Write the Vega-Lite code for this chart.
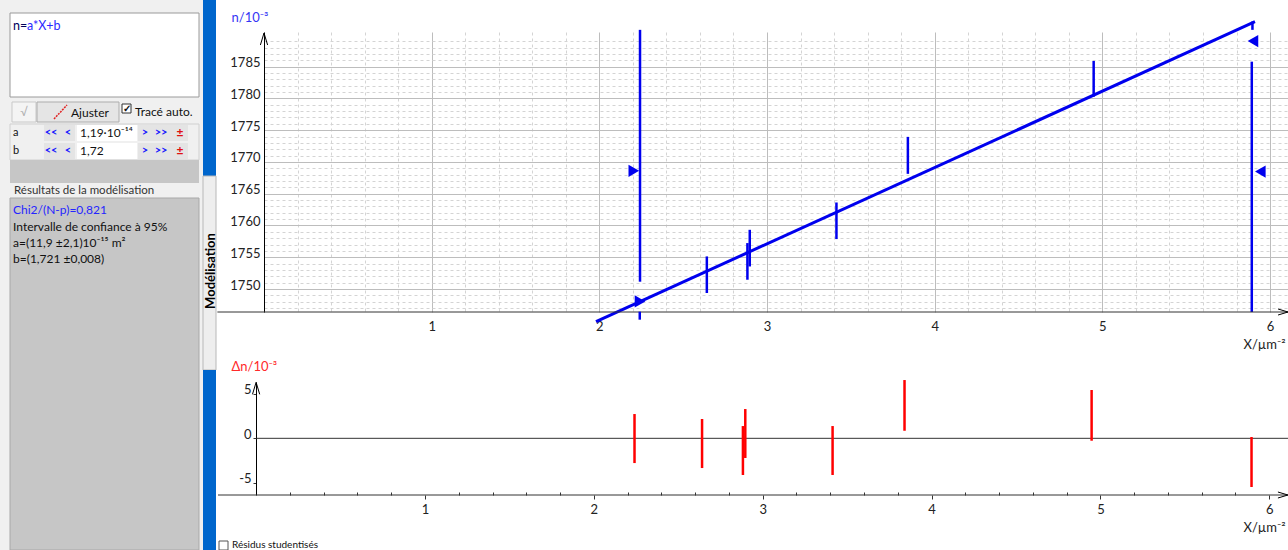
{
  "$schema": "https://vega.github.io/schema/vega-lite/v6.json",
  "padding": 0,
  "spacing": 47,
  "bounds": "flush",
  "config": {
    "view": {"stroke": null},
    "font": "Lato",
    "axis": {"labelFont": "Lato", "titleFont": "Lato", "labelFontSize": 13, "titleFontSize": 13, "titleFontWeight": "normal", "labelColor": "#222", "titleColor": "#222", "labelOverlap": false, "labelFlush": false}
  },
  "datasets": {
    "mesures": [
      {"X": 2.241, "n_lo": 1745.17, "n_hi": 1746.43, "r_lo": -2.78, "r_hi": 2.73},
      {"X": 2.641, "n_lo": 1749.37, "n_hi": 1755.13, "r_lo": -3.34, "r_hi": 2.17},
      {"X": 2.883, "n_lo": 1751.46, "n_hi": 1757.23, "r_lo": -4.12, "r_hi": 1.38},
      {"X": 2.897, "n_lo": 1753.55, "n_hi": 1759.32, "r_lo": -2.21, "r_hi": 3.29},
      {"X": 3.414, "n_lo": 1757.86, "n_hi": 1763.62, "r_lo": -4.12, "r_hi": 1.38},
      {"X": 3.840, "n_lo": 1768.13, "n_hi": 1773.95, "r_lo": 0.85, "r_hi": 6.55},
      {"X": 4.948, "n_lo": 1780.28, "n_hi": 1785.90, "r_lo": -0.27, "r_hi": 5.43},
      {"X": 5.895, "n_lo": 1790.80, "n_hi": 1792.11, "r_lo": -5.47, "r_hi": 0.15}
    ],
    "modele": [{"X": 1.980, "n": 1744.86}, {"X": 5.910, "n": 1792.08}],
    "bornes": [{"X": 2.2425, "lo": 1751.15, "hi": 1790.8}, {"X": 5.891, "lo": 1746.38, "hi": 1785.79}],
    "curseurs": [
      {"X": 2.2056, "n": 1768.60, "sens": "droite"},
      {"X": 2.2425, "n": 1748.05, "sens": "droite"},
      {"X": 5.898, "n": 1789.04, "sens": "gauche"},
      {"X": 5.942, "n": 1768.49, "sens": "gauche"}
    ]
  },
  "hconcat": [
    {
      "width": 217,
      "height": 550,
      "data": {"values": [{}]},
      "layer": [
        {"mark": {"type": "rect", "fill": "#f0f0f0"}, "encoding": {"x": {"datum": 0, "type": "quantitative", "scale": {"domain": [0, 217], "nice": false, "zero": false}, "axis": null}, "x2": {"datum": 203}, "y": {"datum": 0, "type": "quantitative", "scale": {"domain": [0, 550], "reverse": true, "nice": false, "zero": false}, "axis": null}, "y2": {"datum": 550}}},
        {"mark": {"type": "rect", "fill": "#ffffff", "stroke": "#9a9a9a", "strokeWidth": 1}, "encoding": {"x": {"datum": 10, "type": "quantitative", "axis": null}, "x2": {"datum": 199}, "y": {"datum": 13, "type": "quantitative", "axis": null}, "y2": {"datum": 97}}},
        {"mark": {"type": "text", "text": "n=", "align": "left", "baseline": "middle", "fontSize": 12.5, "color": "#00005a"}, "encoding": {"x": {"datum": 13, "type": "quantitative", "axis": null}, "y": {"datum": 26, "type": "quantitative", "axis": null}}},
        {"mark": {"type": "text", "text": "a*X+b", "align": "left", "baseline": "middle", "fontSize": 12.5, "color": "#2b2bff"}, "encoding": {"x": {"datum": 27, "type": "quantitative", "axis": null}, "y": {"datum": 26, "type": "quantitative", "axis": null}}},
        {"mark": {"type": "rect", "fill": "#f4f4f4", "stroke": "#c9c9c9", "strokeWidth": 1}, "encoding": {"x": {"datum": 12, "type": "quantitative", "axis": null}, "x2": {"datum": 36}, "y": {"datum": 102, "type": "quantitative", "axis": null}, "y2": {"datum": 122}}},
        {"mark": {"type": "text", "text": "√", "align": "center", "baseline": "middle", "fontSize": 12, "color": "#b0b0b0"}, "encoding": {"x": {"datum": 24, "type": "quantitative", "axis": null}, "y": {"datum": 112, "type": "quantitative", "axis": null}}},
        {"mark": {"type": "rect", "fill": "#e5e5e5", "stroke": "#adadad", "strokeWidth": 1}, "encoding": {"x": {"datum": 37, "type": "quantitative", "axis": null}, "x2": {"datum": 119}, "y": {"datum": 102, "type": "quantitative", "axis": null}, "y2": {"datum": 122}}},
        {"mark": {"type": "rule", "color": "#e02020", "strokeWidth": 1.5, "strokeDash": [2, 1]}, "encoding": {"x": {"datum": 54, "type": "quantitative", "axis": null}, "x2": {"datum": 67}, "y": {"datum": 119, "type": "quantitative", "axis": null}, "y2": {"datum": 105}}},
        {"mark": {"type": "text", "text": "Ajuster", "align": "left", "baseline": "middle", "fontSize": 12, "color": "#111"}, "encoding": {"x": {"datum": 71, "type": "quantitative", "axis": null}, "y": {"datum": 113, "type": "quantitative", "axis": null}}},
        {"mark": {"type": "rect", "fill": "#ffffff", "stroke": "#333", "strokeWidth": 1}, "encoding": {"x": {"datum": 122, "type": "quantitative", "axis": null}, "x2": {"datum": 131}, "y": {"datum": 104, "type": "quantitative", "axis": null}, "y2": {"datum": 113}}},
        {"mark": {"type": "text", "text": "✓", "align": "center", "baseline": "middle", "fontSize": 10, "fontWeight": "bold", "color": "#111"}, "encoding": {"x": {"datum": 126.5, "type": "quantitative", "axis": null}, "y": {"datum": 108.5, "type": "quantitative", "axis": null}}},
        {"mark": {"type": "text", "text": "Tracé auto.", "align": "left", "baseline": "middle", "fontSize": 12, "color": "#111"}, "encoding": {"x": {"datum": 135, "type": "quantitative", "axis": null}, "y": {"datum": 112, "type": "quantitative", "axis": null}}},
        {"mark": {"type": "rect", "fill": "#f0f0f0", "stroke": "#d0d0d0", "strokeWidth": 1}, "encoding": {"x": {"datum": 10, "type": "quantitative", "axis": null}, "x2": {"datum": 199}, "y": {"datum": 124, "type": "quantitative", "axis": null}, "y2": {"datum": 160}}},
        {"mark": {"type": "rect", "fill": "#e4e4e4"}, "encoding": {"x": {"datum": 44, "type": "quantitative", "axis": null}, "x2": {"datum": 75}, "y": {"datum": 125, "type": "quantitative", "axis": null}, "y2": {"datum": 141}}},
        {"mark": {"type": "rect", "fill": "#e4e4e4"}, "encoding": {"x": {"datum": 44, "type": "quantitative", "axis": null}, "x2": {"datum": 75}, "y": {"datum": 143, "type": "quantitative", "axis": null}, "y2": {"datum": 159}}},
        {"mark": {"type": "rect", "fill": "#e4e4e4"}, "encoding": {"x": {"datum": 138, "type": "quantitative", "axis": null}, "x2": {"datum": 188}, "y": {"datum": 125, "type": "quantitative", "axis": null}, "y2": {"datum": 141}}},
        {"mark": {"type": "rect", "fill": "#e4e4e4"}, "encoding": {"x": {"datum": 138, "type": "quantitative", "axis": null}, "x2": {"datum": 188}, "y": {"datum": 143, "type": "quantitative", "axis": null}, "y2": {"datum": 159}}},
        {"mark": {"type": "rect", "fill": "#ffffff"}, "encoding": {"x": {"datum": 77, "type": "quantitative", "axis": null}, "x2": {"datum": 137}, "y": {"datum": 125, "type": "quantitative", "axis": null}, "y2": {"datum": 141}}},
        {"mark": {"type": "rect", "fill": "#ffffff"}, "encoding": {"x": {"datum": 77, "type": "quantitative", "axis": null}, "x2": {"datum": 137}, "y": {"datum": 143, "type": "quantitative", "axis": null}, "y2": {"datum": 159}}},
        {"mark": {"type": "text", "text": "a", "align": "left", "baseline": "middle", "fontSize": 11, "color": "#111"}, "encoding": {"x": {"datum": 13, "type": "quantitative", "axis": null}, "y": {"datum": 133, "type": "quantitative", "axis": null}}},
        {"mark": {"type": "text", "text": "b", "align": "left", "baseline": "middle", "fontSize": 11, "color": "#111"}, "encoding": {"x": {"datum": 13, "type": "quantitative", "axis": null}, "y": {"datum": 151, "type": "quantitative", "axis": null}}},
        {"mark": {"type": "text", "text": "<<", "align": "center", "baseline": "middle", "fontSize": 11, "fontWeight": "bold", "color": "#1a1aff"}, "encoding": {"x": {"datum": 51, "type": "quantitative", "axis": null}, "y": {"datum": 133, "type": "quantitative", "axis": null}}},
        {"mark": {"type": "text", "text": "<", "align": "center", "baseline": "middle", "fontSize": 11, "fontWeight": "bold", "color": "#1a1aff"}, "encoding": {"x": {"datum": 68, "type": "quantitative", "axis": null}, "y": {"datum": 133, "type": "quantitative", "axis": null}}},
        {"mark": {"type": "text", "text": ">", "align": "center", "baseline": "middle", "fontSize": 11, "fontWeight": "bold", "color": "#1a1aff"}, "encoding": {"x": {"datum": 145, "type": "quantitative", "axis": null}, "y": {"datum": 133, "type": "quantitative", "axis": null}}},
        {"mark": {"type": "text", "text": ">>", "align": "center", "baseline": "middle", "fontSize": 11, "fontWeight": "bold", "color": "#1a1aff"}, "encoding": {"x": {"datum": 161, "type": "quantitative", "axis": null}, "y": {"datum": 133, "type": "quantitative", "axis": null}}},
        {"mark": {"type": "text", "text": "±", "align": "center", "baseline": "middle", "fontSize": 12, "fontWeight": "bold", "color": "#e01010"}, "encoding": {"x": {"datum": 180, "type": "quantitative", "axis": null}, "y": {"datum": 133, "type": "quantitative", "axis": null}}},
        {"mark": {"type": "text", "text": "<<", "align": "center", "baseline": "middle", "fontSize": 11, "fontWeight": "bold", "color": "#1a1aff"}, "encoding": {"x": {"datum": 51, "type": "quantitative", "axis": null}, "y": {"datum": 151, "type": "quantitative", "axis": null}}},
        {"mark": {"type": "text", "text": "<", "align": "center", "baseline": "middle", "fontSize": 11, "fontWeight": "bold", "color": "#1a1aff"}, "encoding": {"x": {"datum": 68, "type": "quantitative", "axis": null}, "y": {"datum": 151, "type": "quantitative", "axis": null}}},
        {"mark": {"type": "text", "text": ">", "align": "center", "baseline": "middle", "fontSize": 11, "fontWeight": "bold", "color": "#1a1aff"}, "encoding": {"x": {"datum": 145, "type": "quantitative", "axis": null}, "y": {"datum": 151, "type": "quantitative", "axis": null}}},
        {"mark": {"type": "text", "text": ">>", "align": "center", "baseline": "middle", "fontSize": 11, "fontWeight": "bold", "color": "#1a1aff"}, "encoding": {"x": {"datum": 161, "type": "quantitative", "axis": null}, "y": {"datum": 151, "type": "quantitative", "axis": null}}},
        {"mark": {"type": "text", "text": "±", "align": "center", "baseline": "middle", "fontSize": 12, "fontWeight": "bold", "color": "#e01010"}, "encoding": {"x": {"datum": 180, "type": "quantitative", "axis": null}, "y": {"datum": 151, "type": "quantitative", "axis": null}}},
        {"mark": {"type": "text", "text": "1,19·10⁻¹⁴", "align": "left", "baseline": "middle", "fontSize": 12, "color": "#111"}, "encoding": {"x": {"datum": 80, "type": "quantitative", "axis": null}, "y": {"datum": 133, "type": "quantitative", "axis": null}}},
        {"mark": {"type": "text", "text": "1,72", "align": "left", "baseline": "middle", "fontSize": 12, "color": "#111"}, "encoding": {"x": {"datum": 80, "type": "quantitative", "axis": null}, "y": {"datum": 151, "type": "quantitative", "axis": null}}},
        {"mark": {"type": "rect", "fill": "#c6c6c6"}, "encoding": {"x": {"datum": 10, "type": "quantitative", "axis": null}, "x2": {"datum": 199}, "y": {"datum": 160, "type": "quantitative", "axis": null}, "y2": {"datum": 183}}},
        {"mark": {"type": "text", "text": "Résultats de la modélisation", "align": "left", "baseline": "middle", "fontSize": 11.5, "color": "#333"}, "encoding": {"x": {"datum": 14, "type": "quantitative", "axis": null}, "y": {"datum": 191, "type": "quantitative", "axis": null}}},
        {"mark": {"type": "rect", "fill": "#c6c6c6", "stroke": "#a8a8a8", "strokeWidth": 1}, "encoding": {"x": {"datum": 10, "type": "quantitative", "axis": null}, "x2": {"datum": 199}, "y": {"datum": 198, "type": "quantitative", "axis": null}, "y2": {"datum": 550}}},
        {"mark": {"type": "text", "text": "Chi2/(N-p)=0,821", "align": "left", "baseline": "middle", "fontSize": 12, "color": "#2525ff"}, "encoding": {"x": {"datum": 13, "type": "quantitative", "axis": null}, "y": {"datum": 210, "type": "quantitative", "axis": null}}},
        {"mark": {"type": "text", "text": "Intervalle de confiance à 95%", "align": "left", "baseline": "middle", "fontSize": 12, "color": "#111"}, "encoding": {"x": {"datum": 13, "type": "quantitative", "axis": null}, "y": {"datum": 227, "type": "quantitative", "axis": null}}},
        {"mark": {"type": "text", "text": "a=(11,9 ±2,1)10⁻¹⁵ m²", "align": "left", "baseline": "middle", "fontSize": 12, "color": "#111"}, "encoding": {"x": {"datum": 13, "type": "quantitative", "axis": null}, "y": {"datum": 243, "type": "quantitative", "axis": null}}},
        {"mark": {"type": "text", "text": "b=(1,721 ±0,008)", "align": "left", "baseline": "middle", "fontSize": 12, "color": "#111"}, "encoding": {"x": {"datum": 13, "type": "quantitative", "axis": null}, "y": {"datum": 259, "type": "quantitative", "axis": null}}},
        {"mark": {"type": "rect", "fill": "#0066cc"}, "encoding": {"x": {"datum": 203, "type": "quantitative", "axis": null}, "x2": {"datum": 216}, "y": {"datum": 0, "type": "quantitative", "axis": null}, "y2": {"datum": 176}}},
        {"mark": {"type": "rect", "fill": "#eeeeee", "stroke": "#b8b8b8", "strokeWidth": 1}, "encoding": {"x": {"datum": 203, "type": "quantitative", "axis": null}, "x2": {"datum": 216}, "y": {"datum": 176, "type": "quantitative", "axis": null}, "y2": {"datum": 370}}},
        {"mark": {"type": "rect", "fill": "#0066cc"}, "encoding": {"x": {"datum": 203, "type": "quantitative", "axis": null}, "x2": {"datum": 216}, "y": {"datum": 370, "type": "quantitative", "axis": null}, "y2": {"datum": 550}}},
        {"mark": {"type": "text", "text": "Modélisation", "align": "center", "baseline": "middle", "angle": 270, "fontSize": 13, "fontWeight": "bold", "color": "#000"}, "encoding": {"x": {"datum": 211, "type": "quantitative", "axis": null}, "y": {"datum": 271, "type": "quantitative", "axis": null}}},
        {"mark": {"type": "rect", "fill": "#ffffff", "stroke": "#555", "strokeWidth": 1}, "encoding": {"x": {"datum": 219, "type": "quantitative", "axis": null}, "x2": {"datum": 228}, "y": {"datum": 541, "type": "quantitative", "axis": null}, "y2": {"datum": 550}}},
        {"mark": {"type": "text", "text": "Résidus studentisés", "align": "left", "baseline": "middle", "fontSize": 10, "color": "#111"}, "encoding": {"x": {"datum": 232, "type": "quantitative", "axis": null}, "y": {"datum": 545, "type": "quantitative", "axis": null}}}
      ]
    },
    {
      "bounds": "flush",
      "spacing": 31,
      "vconcat": [
        {"width": 1024, "height": 1, "data": {"values": []}, "mark": "point", "encoding": {}},
        {
          "bounds": "flush",
          "spacing": 70,
          "vconcat": [
            {
              "width": 1024,
              "height": 280,
              "resolve": {"axis": {"x": "independent", "y": "independent"}},
              "layer": [
                {
                  "data": {"name": "bornes"},
                  "mark": {"type": "rule", "color": "#0000ee", "strokeWidth": 2.5},
                  "encoding": {"x": {"field": "X", "type": "quantitative", "axis": null}, "y": {"field": "lo", "type": "quantitative", "axis": null}, "y2": {"field": "hi"}}
                },
                {
                  "data": {"name": "modele"},
                  "mark": {"type": "line", "color": "#0000ee", "strokeWidth": 3},
                  "encoding": {"x": {"field": "X", "type": "quantitative", "axis": null}, "y": {"field": "n", "type": "quantitative", "axis": null}}
                },
                {
                  "data": {"name": "curseurs"},
                  "mark": {"type": "point", "filled": true, "size": 150, "color": "#0000ee", "opacity": 1},
                  "encoding": {
                    "x": {"field": "X", "type": "quantitative", "axis": null},
                    "y": {"field": "n", "type": "quantitative", "axis": null},
                    "shape": {"field": "sens", "type": "nominal", "scale": {"domain": ["droite", "gauche"], "range": ["triangle-right", "triangle-left"]}, "legend": null}
                  }
                },
                {
                  "data": {"values": [{}]},
                  "mark": {"type": "rule", "color": "#333", "strokeWidth": 1},
                  "encoding": {"x": {"datum": -0.278, "type": "quantitative", "axis": null}, "x2": {"datum": 6.107}, "y": {"datum": 1746.38, "type": "quantitative", "axis": null}}
                },
                {
                  "data": {"values": [{}]},
                  "mark": {"type": "point", "shape": "M-0.6,1L0,-1L0.6,1", "size": 144, "filled": false, "stroke": "#000", "strokeWidth": 1, "opacity": 1},
                  "encoding": {"x": {"datum": 0, "type": "quantitative", "axis": null}, "y": {"datum": 1789.36, "type": "quantitative", "axis": null}}
                },
                {
                  "data": {"values": [{}]},
                  "mark": {"type": "point", "shape": "M-1,-0.6L1,0L-1,0.6", "size": 100, "filled": false, "stroke": "#000", "strokeWidth": 1, "opacity": 1},
                  "encoding": {"x": {"datum": 6.0775, "type": "quantitative", "axis": null}, "y": {"datum": 1746.38, "type": "quantitative", "axis": null}}
                },
                {
                  "data": {"name": "mesures"},
                  "mark": {"type": "rule", "color": "#0000ee", "strokeWidth": 2.5},
                  "encoding": {
                    "x": {"field": "X", "type": "quantitative", "scale": {"domain": [0, 6.107], "nice": false, "zero": false},
                      "axis": {
                        "values": [0, 0.2, 0.4, 0.6, 0.8, 1, 1.2, 1.4, 1.6, 1.8, 2, 2.2, 2.4, 2.6, 2.8, 3, 3.2, 3.4, 3.6, 3.8, 4, 4.2, 4.4, 4.6, 4.8, 5, 5.2, 5.4, 5.6, 5.8, 6],
                        "grid": true,
                        "gridColor": {"condition": {"test": "datum.value % 1 === 0", "value": "#bdbdbd"}, "value": "#d4d4d4"},
                        "gridDash": {"condition": {"test": "datum.value % 1 === 0", "value": []}, "value": [3, 3]},
                        "gridWidth": 1,
                        "ticks": false,
                        "domain": false,
                        "labelExpr": "datum.value % 1 === 0 && datum.value > 0 ? toString(datum.value) : ''",
                        "labelPadding": 8,
                        "title": "X/µm⁻²",
                        "titleX": 979,
                        "titleY": 32,
                        "titleAlign": "left",
                        "titleBaseline": "middle"
                      }
                    },
                    "y": {"field": "n_lo", "type": "quantitative", "scale": {"domain": [1746.38, 1790.46], "nice": false, "zero": false},
                      "axis": {
                        "values": [1747, 1748, 1749, 1750, 1751, 1752, 1753, 1754, 1755, 1756, 1757, 1758, 1759, 1760, 1761, 1762, 1763, 1764, 1765, 1766, 1767, 1768, 1769, 1770, 1771, 1772, 1773, 1774, 1775, 1776, 1777, 1778, 1779, 1780, 1781, 1782, 1783, 1784, 1785, 1786, 1787, 1788, 1789],
                        "grid": true,
                        "gridColor": {"condition": {"test": "datum.value % 5 === 0", "value": "#bdbdbd"}, "value": "#d4d4d4"},
                        "gridDash": {"condition": {"test": "datum.value % 5 === 0", "value": []}, "value": [3, 3]},
                        "gridWidth": 1,
                        "ticks": false,
                        "domain": true,
                        "domainColor": "#000",
                        "labelExpr": "datum.value % 5 === 0 ? toString(datum.value) : ''",
                        "labelPadding": 4,
                        "labelOffset": -4,
                        "title": "n/10⁻³",
                        "titleAngle": 0,
                        "titleX": -33,
                        "titleY": -15,
                        "titleAlign": "left",
                        "titleBaseline": "middle",
                        "titleColor": "#3535f5"
                      }
                    },
                    "y2": {"field": "n_hi"}
                  }
                }
              ]
            },
            {
              "width": 1024,
              "height": 113,
              "resolve": {"axis": {"x": "independent", "y": "independent"}},
              "layer": [
                {
                  "data": {"values": [{}]},
                  "mark": {"type": "rule", "color": "#333", "strokeWidth": 1},
                  "encoding": {"x": {"datum": 0, "type": "quantitative", "axis": null}, "x2": {"datum": 6.111}, "y": {"datum": 0, "type": "quantitative", "axis": null}}
                },
                {
                  "data": {"values": [{}]},
                  "mark": {"type": "rule", "color": "#333", "strokeWidth": 1},
                  "encoding": {"x": {"datum": -0.2256, "type": "quantitative", "axis": null}, "x2": {"datum": 6.111}, "y": {"datum": -6.37, "type": "quantitative", "axis": null}}
                },
                {
                  "data": {"values": [{}]},
                  "mark": {"type": "point", "shape": "M-0.6,1L0,-1L0.6,1", "size": 144, "filled": false, "stroke": "#000", "strokeWidth": 1, "opacity": 1},
                  "encoding": {"x": {"datum": 0, "type": "quantitative", "axis": null}, "y": {"datum": 5.62, "type": "quantitative", "axis": null}}
                },
                {
                  "data": {"values": [{}]},
                  "mark": {"type": "point", "shape": "M-1,-0.6L1,0L-1,0.6", "size": 100, "filled": false, "stroke": "#000", "strokeWidth": 1, "opacity": 1},
                  "encoding": {"x": {"datum": 6.081, "type": "quantitative", "axis": null}, "y": {"datum": -6.37, "type": "quantitative", "axis": null}}
                },
                {
                  "data": {"name": "mesures"},
                  "mark": {"type": "rule", "color": "#ff0000", "strokeWidth": 2.5},
                  "encoding": {
                    "x": {"field": "X", "type": "quantitative", "scale": {"domain": [0.0468, 6.111], "nice": false, "zero": false},
                      "axis": {
                        "values": [0.2, 0.4, 0.6, 0.8, 1, 1.2, 1.4, 1.6, 1.8, 2, 2.2, 2.4, 2.6, 2.8, 3, 3.2, 3.4, 3.6, 3.8, 4, 4.2, 4.4, 4.6, 4.8, 5, 5.2, 5.4, 5.6, 5.8, 6],
                        "grid": false,
                        "domain": false,
                        "ticks": true,
                        "tickColor": "#333",
                        "tickSize": {"condition": {"test": "datum.value % 1 === 0", "value": 4}, "value": -3},
                        "labelExpr": "datum.value % 1 === 0 ? toString(datum.value) : ''",
                        "labelPadding": 4,
                        "title": "X/µm⁻²",
                        "titleX": 979,
                        "titleY": 32,
                        "titleAlign": "left",
                        "titleBaseline": "middle"
                      }
                    },
                    "y": {"field": "r_lo", "type": "quantitative", "scale": {"domain": [-6.37, 6.33], "nice": false, "zero": false},
                      "axis": {
                        "values": [-5, 0, 5],
                        "offset": 8,
                        "grid": false,
                        "domain": true,
                        "domainColor": "#000",
                        "ticks": true,
                        "tickSize": 3,
                        "tickColor": "#333",
                        "labelExpr": "toString(datum.value)",
                        "labelPadding": 2,
                        "labelOffset": -4,
                        "title": "Δn/10⁻³",
                        "titleAngle": 0,
                        "titleX": -25,
                        "titleY": -16,
                        "titleAlign": "left",
                        "titleBaseline": "middle",
                        "titleColor": "#ff2a2a"
                      }
                    },
                    "y2": {"field": "r_hi"}
                  }
                }
              ]
            }
          ]
        }
      ]
    }
  ]
}
